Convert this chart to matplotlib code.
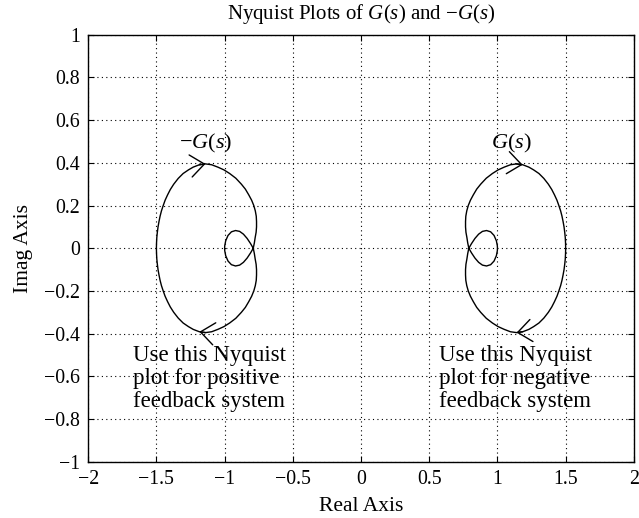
import matplotlib
matplotlib.use('Agg')
import matplotlib.pyplot as plt
import numpy as np

plt.rcParams['font.family'] = ['Liberation Serif', 'DejaVu Serif']
plt.rcParams['mathtext.fontset'] = 'custom'
plt.rcParams['mathtext.rm'] = 'Liberation Serif'
plt.rcParams['mathtext.it'] = 'Liberation Serif:italic'

# upper half of the outer loop of G(jw)
outer_re = [0.790, 0.782, 0.776, 0.769, 0.766, 0.766, 0.768, 0.775, 0.786, 0.802,
            0.823, 0.848, 0.877, 0.918, 0.963, 1.005, 1.050, 1.095, 1.140, 1.185,
            1.230, 1.265, 1.304, 1.340, 1.373, 1.398, 1.418, 1.436, 1.450, 1.463,
            1.473, 1.481, 1.488, 1.493, 1.497, 1.499, 1.500]
outer_im = [0.000, 0.025, 0.050, 0.075, 0.100, 0.125, 0.150, 0.175, 0.200, 0.225,
            0.250, 0.277, 0.300, 0.328, 0.350, 0.367, 0.380, 0.391, 0.395, 0.391,
            0.380, 0.367, 0.350, 0.327, 0.300, 0.275, 0.250, 0.225, 0.200, 0.175,
            0.150, 0.125, 0.100, 0.075, 0.050, 0.025, 0.000]
# upper half of the small inner loop
loop_re = [0.790, 0.810, 0.835, 0.862, 0.890, 0.920, 0.950, 0.975, 0.992, 0.999, 1.000]
loop_im = [0.000, 0.022, 0.046, 0.066, 0.079, 0.083, 0.077, 0.060, 0.035, 0.012, 0.000]

x_ticks = [-2, -1.5, -1, -0.5, 0, 0.5, 1, 1.5, 2]
y_ticks = [-1, -0.8, -0.6, -0.4, -0.2, 0, 0.2, 0.4, 0.6, 0.8, 1]

note_pos = 'Use this Nyquist\nplot for positive\nfeedback system'
note_neg = 'Use this Nyquist\nplot for negative\nfeedback system'


def closed(re, im):
    re = np.array(re)
    im = np.array(im)
    return np.r_[re, re[::-1]], np.r_[im, -im[::-1]]


fig = plt.figure(figsize=(6.39, 5.18), dpi=100)
ax = fig.add_axes([0.138, 0.1085, 0.854, 0.8245])

ox, oy = closed(outer_re, outer_im)
lx, ly = closed(loop_re, loop_im)

arrow = dict(arrowstyle='->,head_length=0.5,head_width=0.4', color='k', lw=1,
             shrinkA=0, shrinkB=0, mutation_scale=20)
i_top = 19   # point on the upper arc where the arrows sit

for sign in (1, -1):
    ax.plot(sign * ox, oy, color='k', lw=1)
    ax.plot(sign * lx, ly, color='k', lw=1)
    re = sign * np.array(outer_re)
    im = np.array(outer_im)
    a = (re[i_top - 1], im[i_top - 1])
    b = (re[i_top], im[i_top])
    left, right = (a, b) if a[0] < b[0] else (b, a)
    # clockwise: rightwards on top, leftwards at the bottom
    ax.annotate('', xy=right, xytext=left, arrowprops=arrow)
    ax.annotate('', xy=(left[0], -left[1]), xytext=(right[0], -right[1]), arrowprops=arrow)

ax.text(1.10, 0.465, '$G(s)$', ha='center', va='baseline', fontsize=16)
ax.text(-1.14, 0.465, '$-G(s)$', ha='center', va='baseline', fontsize=16)
ax.text(-1.67, -0.455, note_pos, ha='left', va='top', fontsize=16.5, linespacing=1.1)
ax.text(0.57, -0.455, note_neg, ha='left', va='top', fontsize=16.5, linespacing=1.1)

ax.set_xlim(-2, 2)
ax.set_ylim(-1, 1)
ax.set_xticks(x_ticks)
ax.set_yticks(y_ticks)
ax.set_xticklabels([('%g' % v).replace('-', '\u2212') for v in x_ticks])
ax.set_yticklabels([('%g' % v).replace('-', '\u2212') for v in y_ticks])
ax.tick_params(direction='in', length=4, top=True, right=True, labelsize=14.3, pad=6)
ax.grid(True, linestyle=(0, (1, 3)), color='k', lw=0.8)
for s in ax.spines.values():
    s.set_linewidth(1)

ax.set_title('Nyquist Plots of $G(s)$ and $-G(s)$', fontsize=15, pad=11)
ax.set_xlabel('Real Axis', fontsize=15.5, labelpad=6)
ax.set_ylabel('Imag Axis', fontsize=15.5, labelpad=8)

fig.savefig('out.png', dpi=100)
